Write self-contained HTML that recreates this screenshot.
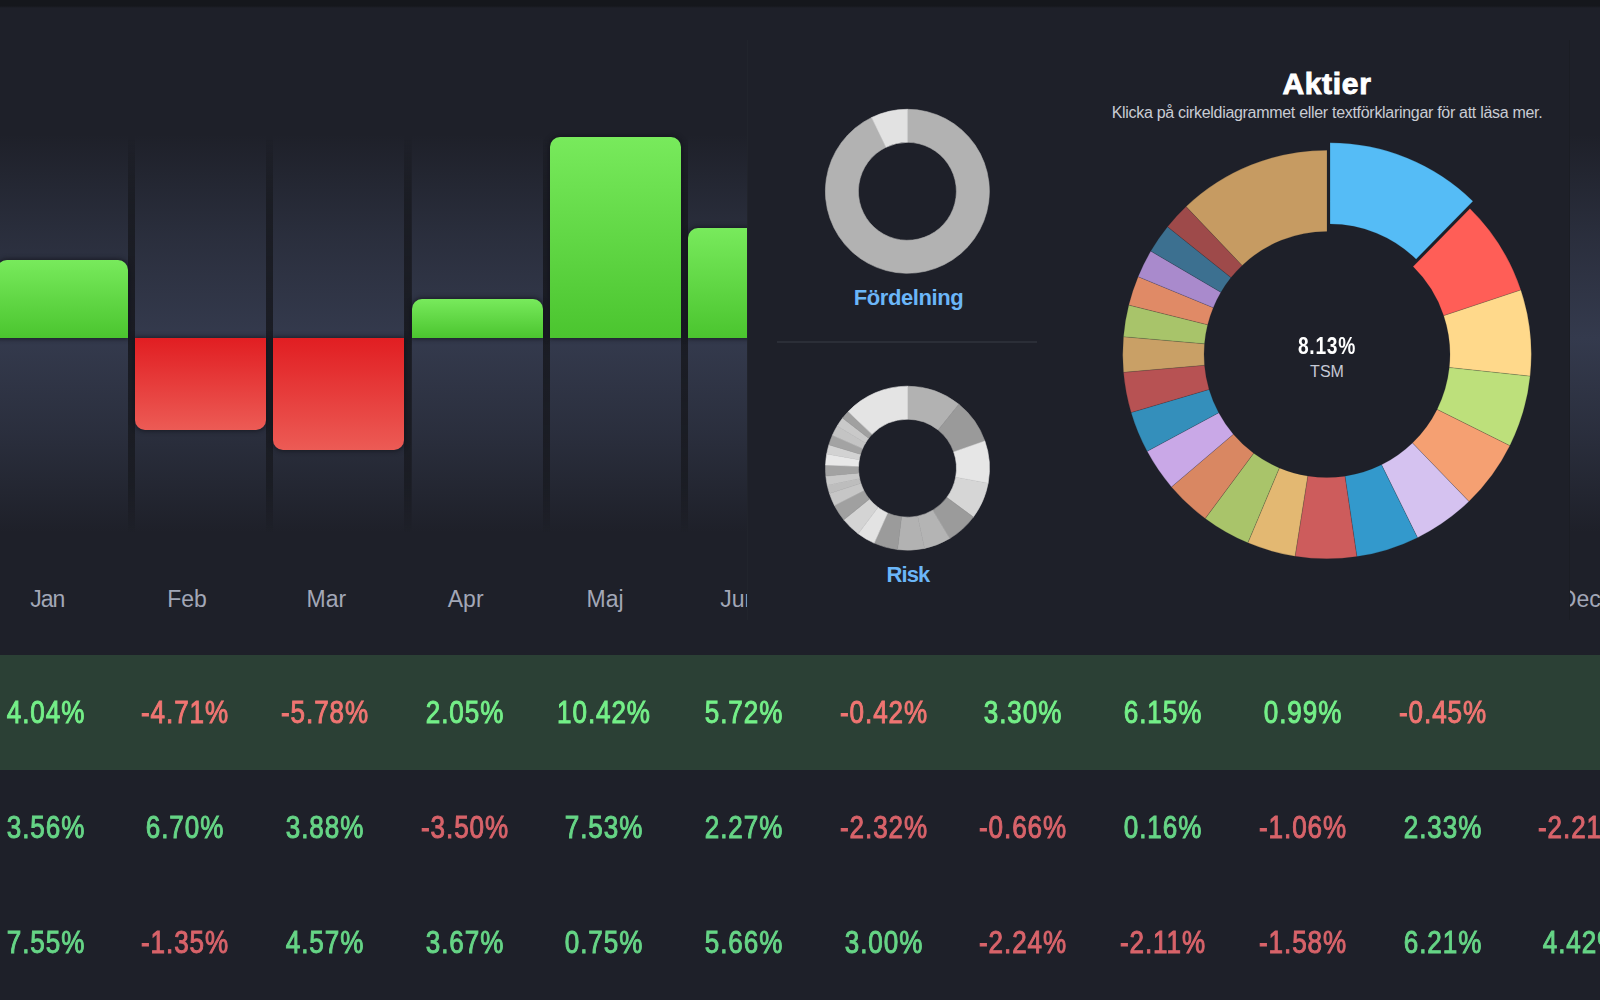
<!DOCTYPE html>
<html><head><meta charset="utf-8"><style>
*{margin:0;padding:0;box-sizing:border-box}
html,body{width:1600px;height:1000px;overflow:hidden;background:#1e2029;font-family:"Liberation Sans",sans-serif}
#top{position:absolute;left:0;top:0;width:1600px;height:8px;background:linear-gradient(#15171c 0,#15171c 6px,#1a1c23 7px,#1e2029 8px)}
.col{position:absolute;top:134px;width:131.0px;height:398px;background:linear-gradient(to bottom,rgba(52,58,77,0) 0px,rgba(52,58,77,.55) 102px,#343a4d 204px,rgba(52,58,77,.55) 301px,rgba(52,58,77,0) 398px)}
.sep{position:absolute;top:140px;width:7.33px;height:392px;background:linear-gradient(to bottom,rgba(26,28,35,0) 0%,rgba(26,28,35,.8) 16%,#1b1d25 50%,rgba(26,28,35,.8) 88%,rgba(26,28,35,0) 100%);filter:blur(.6px)}
.bar{position:absolute;width:131.0px;box-shadow:0 0 5px 1px rgba(18,19,25,.75)}
.bar.g{background:linear-gradient(#78ea5c,#4bc52f);border-radius:10px 10px 0 0}
.bar.r{background:linear-gradient(#e11e22,#ec5b55);border-radius:0 0 10px 10px}
.lab{position:absolute;top:584px;width:80px;text-align:center;font-size:23px;color:#a2a7b7;line-height:30px}
#panel{position:absolute;left:747px;top:40px;width:822px;height:580px;background:#1e2029;border-left:1px solid #21242c;box-shadow:1px 0 0 #1b1d24}
.row{position:absolute;left:0;width:1600px;height:115px}
.row.hl{background:#2b4035}
.pc{position:absolute;top:0;width:120px;height:115px;line-height:115px;text-align:center;font-size:31px;font-weight:normal;-webkit-text-stroke:1px currentColor;transform:scaleX(.84);letter-spacing:1.1px}
.p{color:#66d586} .n{color:#d8636a}
.hl .p{color:#74ef88} .hl .n{color:#f07572}
.ttl{position:absolute;color:#6bb6f8;font-weight:bold;font-size:22px;letter-spacing:-.4px;text-align:center;width:200px}
</style></head><body>
<div id="top"></div>
<div class="col" style="left:-3.5px"></div><div class="sep" style="left:127.5px"></div><div class="bar g" style="left:-3.5px;top:260.1px;height:78.3px"></div><div class="col" style="left:134.8px"></div><div class="sep" style="left:265.8px"></div><div class="bar r" style="left:134.8px;top:338.4px;height:91.3px"></div><div class="col" style="left:273.1px"></div><div class="sep" style="left:404.1px"></div><div class="bar r" style="left:273.1px;top:338.4px;height:112.0px"></div><div class="col" style="left:411.5px"></div><div class="sep" style="left:542.5px"></div><div class="bar g" style="left:411.5px;top:298.7px;height:39.7px"></div><div class="col" style="left:549.8px"></div><div class="sep" style="left:680.8px"></div><div class="bar g" style="left:549.8px;top:136.5px;height:201.9px"></div><div class="col" style="left:688.1px"></div><div class="sep" style="left:819.1px"></div><div class="bar g" style="left:688.1px;top:227.5px;height:110.9px"></div><div class="col" style="left:826.5px"></div><div class="sep" style="left:957.5px"></div><div class="bar r" style="left:826.5px;top:338.4px;height:8.1px"></div><div class="col" style="left:964.8px"></div><div class="sep" style="left:1095.8px"></div><div class="bar g" style="left:964.8px;top:274.4px;height:64.0px"></div><div class="col" style="left:1103.1px"></div><div class="sep" style="left:1234.1px"></div><div class="bar g" style="left:1103.1px;top:219.2px;height:119.2px"></div><div class="col" style="left:1241.4px"></div><div class="sep" style="left:1372.4px"></div><div class="bar g" style="left:1241.4px;top:319.2px;height:19.2px"></div><div class="col" style="left:1379.8px"></div><div class="sep" style="left:1510.8px"></div><div class="bar r" style="left:1379.8px;top:338.4px;height:8.7px"></div><div class="col" style="left:1518.1px"></div>
<div class="lab" style="left:7.2px;letter-spacing:-1px">Jan</div><div class="lab" style="left:147.0px">Feb</div><div class="lab" style="left:286.3px">Mar</div><div class="lab" style="left:425.7px">Apr</div><div class="lab" style="left:565.0px">Maj</div><div class="lab" style="left:698.8px">Jun</div><div class="lab" style="left:843.7px">Jul</div><div class="lab" style="left:983.0px">Aug</div><div class="lab" style="left:1122.3px">Sep</div><div class="lab" style="left:1261.6px">Okt</div><div class="lab" style="left:1401.0px">Nov</div><div class="lab" style="left:1540.3px">Dec</div>
<div id="panel"></div>
<svg width="1600" height="1000" style="position:absolute;left:0;top:0">
<line x1="777" y1="342" x2="1037" y2="342" stroke="#2b2e37" stroke-width="1.8"/>
<path d="M907.40,109.30A82,82 0 1 1 871.71,117.47L886.07,147.18A49,49 0 1 0 907.40,142.30Z" fill="#b2b2b2" stroke="#b2b2b2" stroke-width=".6"/>
<path d="M871.71,117.47A82,82 0 0 1 907.40,109.30L907.40,142.30A49,49 0 0 0 886.07,147.18Z" fill="#e2e2e2" stroke="#e2e2e2" stroke-width=".6"/>
<path d="M907.50,386.20A82,82 0 0 1 958.88,404.29L938.20,430.01A49,49 0 0 0 907.50,419.20Z" fill="#b2b2b2" stroke="#b2b2b2" stroke-width=".6"/>
<path d="M958.88,404.29A82,82 0 0 1 984.89,441.10L953.75,452.00A49,49 0 0 0 938.20,430.01Z" fill="#9a9a9a" stroke="#9a9a9a" stroke-width=".6"/>
<path d="M984.89,441.10A82,82 0 0 1 988.13,483.14L955.68,477.13A49,49 0 0 0 953.75,452.00Z" fill="#e6e6e6" stroke="#e6e6e6" stroke-width=".6"/>
<path d="M988.13,483.14A82,82 0 0 1 973.33,517.09L946.84,497.42A49,49 0 0 0 955.68,477.13Z" fill="#d6d6d6" stroke="#d6d6d6" stroke-width=".6"/>
<path d="M973.33,517.09A82,82 0 0 1 949.73,538.49L932.74,510.20A49,49 0 0 0 946.84,497.42Z" fill="#9b9b9b" stroke="#9b9b9b" stroke-width=".6"/>
<path d="M949.73,538.49A82,82 0 0 1 924.55,548.41L917.69,516.13A49,49 0 0 0 932.74,510.20Z" fill="#b4b4b4" stroke="#b4b4b4" stroke-width=".6"/>
<path d="M924.55,548.41A82,82 0 0 1 897.51,549.59L901.53,516.83A49,49 0 0 0 917.69,516.13Z" fill="#b2b2b2" stroke="#b2b2b2" stroke-width=".6"/>
<path d="M897.51,549.59A82,82 0 0 1 874.15,543.11L887.57,512.96A49,49 0 0 0 901.53,516.83Z" fill="#9b9b9b" stroke="#9b9b9b" stroke-width=".6"/>
<path d="M874.15,543.11A82,82 0 0 1 858.15,533.69L878.01,507.33A49,49 0 0 0 887.57,512.96Z" fill="#e3e3e3" stroke="#e3e3e3" stroke-width=".6"/>
<path d="M858.15,533.69A82,82 0 0 1 843.77,519.80L869.42,499.04A49,49 0 0 0 878.01,507.33Z" fill="#d4d4d4" stroke="#d4d4d4" stroke-width=".6"/>
<path d="M843.77,519.80A82,82 0 0 1 834.44,505.43L863.84,490.45A49,49 0 0 0 869.42,499.04Z" fill="#a0a0a0" stroke="#a0a0a0" stroke-width=".6"/>
<path d="M834.44,505.43A82,82 0 0 1 829.51,493.54L860.90,483.34A49,49 0 0 0 863.84,490.45Z" fill="#c6c6c6" stroke="#c6c6c6" stroke-width=".6"/>
<path d="M829.51,493.54A82,82 0 0 1 827.29,485.25L859.57,478.39A49,49 0 0 0 860.90,483.34Z" fill="#bdbdbd" stroke="#bdbdbd" stroke-width=".6"/>
<path d="M827.29,485.25A82,82 0 0 1 825.88,476.06L858.73,472.90A49,49 0 0 0 859.57,478.39Z" fill="#c8c8c8" stroke="#c8c8c8" stroke-width=".6"/>
<path d="M825.88,476.06A82,82 0 0 1 825.57,464.91L858.54,466.23A49,49 0 0 0 858.73,472.90Z" fill="#a2a2a2" stroke="#a2a2a2" stroke-width=".6"/>
<path d="M825.57,464.91A82,82 0 0 1 826.75,453.96L859.24,459.69A49,49 0 0 0 858.54,466.23Z" fill="#e8e8e8" stroke="#e8e8e8" stroke-width=".6"/>
<path d="M826.75,453.96A82,82 0 0 1 828.92,444.77L860.54,454.20A49,49 0 0 0 859.24,459.69Z" fill="#d2d2d2" stroke="#d2d2d2" stroke-width=".6"/>
<path d="M828.92,444.77A82,82 0 0 1 832.42,435.24L862.63,448.50A49,49 0 0 0 860.54,454.20Z" fill="#a3a3a3" stroke="#a3a3a3" stroke-width=".6"/>
<path d="M832.42,435.24A82,82 0 0 1 837.21,425.97L865.50,442.96A49,49 0 0 0 862.63,448.50Z" fill="#c4c4c4" stroke="#c4c4c4" stroke-width=".6"/>
<path d="M837.21,425.97A82,82 0 0 1 842.62,418.05L868.73,438.24A49,49 0 0 0 865.50,442.96Z" fill="#c9c9c9" stroke="#c9c9c9" stroke-width=".6"/>
<path d="M842.62,418.05A82,82 0 0 1 848.22,411.55L872.07,434.35A49,49 0 0 0 868.73,438.24Z" fill="#a0a0a0" stroke="#a0a0a0" stroke-width=".6"/>
<path d="M848.22,411.55A82,82 0 0 1 907.50,386.20L907.50,419.20A49,49 0 0 0 872.07,434.35Z" fill="#e4e4e4" stroke="#e4e4e4" stroke-width=".6"/>
<g><path d="M1330.02,142.79A204.3,204.3 0 0 1 1472.96,201.13L1416.08,259.21A123,123 0 0 0 1330.02,224.09Z" fill="#55bcf6" stroke="rgba(30,32,41,.35)" stroke-width="0.5"/>
<path d="M1469.94,208.53A204.3,204.3 0 0 1 1520.86,290.01L1443.71,315.68A123,123 0 0 0 1413.06,266.62Z" fill="#ff5e57" stroke="rgba(30,32,41,.35)" stroke-width="0.5"/>
<path d="M1520.86,290.01A204.3,204.3 0 0 1 1530.14,376.21L1449.30,367.57A123,123 0 0 0 1443.71,315.68Z" fill="#ffd98b" stroke="rgba(30,32,41,.35)" stroke-width="0.5"/>
<path d="M1530.14,376.21A204.3,204.3 0 0 1 1509.84,445.66L1437.08,409.38A123,123 0 0 0 1449.30,367.57Z" fill="#bde07b" stroke="rgba(30,32,41,.35)" stroke-width="0.5"/>
<path d="M1509.84,445.66A204.3,204.3 0 0 1 1468.92,501.46L1412.44,442.98A123,123 0 0 0 1437.08,409.38Z" fill="#f5a072" stroke="rgba(30,32,41,.35)" stroke-width="0.5"/>
<path d="M1468.92,501.46A204.3,204.3 0 0 1 1417.52,537.65L1381.50,464.77A123,123 0 0 0 1412.44,442.98Z" fill="#d5c2f0" stroke="rgba(30,32,41,.35)" stroke-width="0.5"/>
<path d="M1417.52,537.65A204.3,204.3 0 0 1 1356.84,556.61L1344.97,476.18A123,123 0 0 0 1381.50,464.77Z" fill="#3399cc" stroke="rgba(30,32,41,.35)" stroke-width="0.5"/>
<path d="M1356.84,556.61A204.3,204.3 0 0 1 1295.04,556.28L1307.76,475.99A123,123 0 0 0 1344.97,476.18Z" fill="#cd5c5c" stroke="rgba(30,32,41,.35)" stroke-width="0.5"/>
<path d="M1295.04,556.28A204.3,204.3 0 0 1 1247.83,542.84L1279.34,467.89A123,123 0 0 0 1307.76,475.99Z" fill="#e3b872" stroke="rgba(30,32,41,.35)" stroke-width="0.5"/>
<path d="M1247.83,542.84A204.3,204.3 0 0 1 1205.19,518.52L1253.66,453.25A123,123 0 0 0 1279.34,467.89Z" fill="#a9c46a" stroke="rgba(30,32,41,.35)" stroke-width="0.5"/>
<path d="M1205.19,518.52A204.3,204.3 0 0 1 1171.42,486.91L1233.33,434.22A123,123 0 0 0 1253.66,453.25Z" fill="#d98762" stroke="rgba(30,32,41,.35)" stroke-width="0.5"/>
<path d="M1171.42,486.91A204.3,204.3 0 0 1 1147.12,451.36L1218.70,412.81A123,123 0 0 0 1233.33,434.22Z" fill="#c9a8e7" stroke="rgba(30,32,41,.35)" stroke-width="0.5"/>
<path d="M1147.12,451.36A204.3,204.3 0 0 1 1131.11,412.52L1209.07,389.43A123,123 0 0 0 1218.70,412.81Z" fill="#348fbb" stroke="rgba(30,32,41,.35)" stroke-width="0.5"/>
<path d="M1131.11,412.52A204.3,204.3 0 0 1 1123.48,372.31L1204.47,365.22A123,123 0 0 0 1209.07,389.43Z" fill="#b75253" stroke="rgba(30,32,41,.35)" stroke-width="0.5"/>
<path d="M1123.48,372.31A204.3,204.3 0 0 1 1123.48,336.69L1204.47,343.78A123,123 0 0 0 1204.47,365.22Z" fill="#c9a066" stroke="rgba(30,32,41,.35)" stroke-width="0.5"/>
<path d="M1123.48,336.69A204.3,204.3 0 0 1 1128.77,305.08L1207.65,324.74A123,123 0 0 0 1204.47,343.78Z" fill="#a8c46a" stroke="rgba(30,32,41,.35)" stroke-width="0.5"/>
<path d="M1128.77,305.08A204.3,204.3 0 0 1 1138.12,276.65L1213.28,307.63A123,123 0 0 0 1207.65,324.74Z" fill="#e08a66" stroke="rgba(30,32,41,.35)" stroke-width="0.5"/>
<path d="M1138.12,276.65A204.3,204.3 0 0 1 1150.79,251.12L1220.91,292.26A123,123 0 0 0 1213.28,307.63Z" fill="#a98acc" stroke="rgba(30,32,41,.35)" stroke-width="0.5"/>
<path d="M1150.79,251.12A204.3,204.3 0 0 1 1167.56,226.76L1231.01,277.60A123,123 0 0 0 1220.91,292.26Z" fill="#3c7090" stroke="rgba(30,32,41,.35)" stroke-width="0.5"/>
<path d="M1167.56,226.76A204.3,204.3 0 0 1 1186.11,206.55L1242.18,265.43A123,123 0 0 0 1231.01,277.60Z" fill="#9e4a4a" stroke="rgba(30,32,41,.35)" stroke-width="0.5"/>
<path d="M1186.11,206.55A204.3,204.3 0 0 1 1327.00,150.20L1327.00,231.50A123,123 0 0 0 1242.18,265.43Z" fill="#c69b62" stroke="rgba(30,32,41,.35)" stroke-width="0.5"/></g>
</svg>
<div class="ttl" style="left:808.5px;top:284.5px">Fördelning</div>
<div class="ttl" style="left:808px;top:562px;letter-spacing:-.9px">Risk</div>
<div style="position:absolute;left:1127px;top:66.5px;width:400px;text-align:center;color:#fff;font-weight:bold;font-size:30px;letter-spacing:.7px;-webkit-text-stroke:.9px #fff">Aktier</div>
<div style="position:absolute;left:1027px;top:104px;width:600px;text-align:center;color:#c9ccd4;font-size:16px;letter-spacing:-.3px">Klicka på cirkeldiagrammet eller textförklaringar för att läsa mer.</div>
<div style="position:absolute;left:1227px;top:332px;width:200px;text-align:center;color:#fff;font-weight:bold;font-size:24px;transform:scaleX(.8);letter-spacing:.9px">8.13%</div>
<div style="position:absolute;left:1227px;top:363px;width:200px;text-align:center;color:#c6cad6;font-size:16px">TSM</div>
<div class="row hl" style="top:655px"><div class="pc p" style="left:-14.5px">4.04%</div><div class="pc n" style="left:125.2px">-4.71%</div><div class="pc n" style="left:264.9px">-5.78%</div><div class="pc p" style="left:404.6px">2.05%</div><div class="pc p" style="left:544.3px">10.42%</div><div class="pc p" style="left:684.0px">5.72%</div><div class="pc n" style="left:823.7px">-0.42%</div><div class="pc p" style="left:963.4px">3.30%</div><div class="pc p" style="left:1103.1px">6.15%</div><div class="pc p" style="left:1242.8px">0.99%</div><div class="pc n" style="left:1382.5px">-0.45%</div><div class="pc p" style="left:1522.2px"></div></div><div class="row" style="top:770px"><div class="pc p" style="left:-14.5px">3.56%</div><div class="pc p" style="left:125.2px">6.70%</div><div class="pc p" style="left:264.9px">3.88%</div><div class="pc n" style="left:404.6px">-3.50%</div><div class="pc p" style="left:544.3px">7.53%</div><div class="pc p" style="left:684.0px">2.27%</div><div class="pc n" style="left:823.7px">-2.32%</div><div class="pc n" style="left:963.4px">-0.66%</div><div class="pc p" style="left:1103.1px">0.16%</div><div class="pc n" style="left:1242.8px">-1.06%</div><div class="pc p" style="left:1382.5px">2.33%</div><div class="pc n" style="left:1522.2px">-2.21%</div></div><div class="row" style="top:885px"><div class="pc p" style="left:-14.5px">7.55%</div><div class="pc n" style="left:125.2px">-1.35%</div><div class="pc p" style="left:264.9px">4.57%</div><div class="pc p" style="left:404.6px">3.67%</div><div class="pc p" style="left:544.3px">0.75%</div><div class="pc p" style="left:684.0px">5.66%</div><div class="pc p" style="left:823.7px">3.00%</div><div class="pc n" style="left:963.4px">-2.24%</div><div class="pc n" style="left:1103.1px">-2.11%</div><div class="pc n" style="left:1242.8px">-1.58%</div><div class="pc p" style="left:1382.5px">6.21%</div><div class="pc p" style="left:1522.2px">4.42%</div></div>
</body></html>
